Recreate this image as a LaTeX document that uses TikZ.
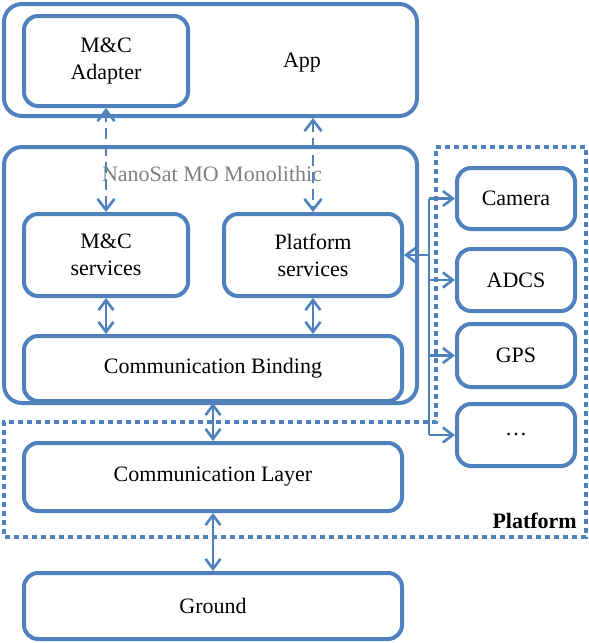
\documentclass[tikz,border=0pt]{standalone}
\usepackage{fontspec}
\setmainfont{Liberation Serif}
\usetikzlibrary{arrows.meta}
\definecolor{boxblue}{HTML}{4F81BD}
\definecolor{titlegray}{HTML}{808080}

\begin{document}
\begin{tikzpicture}[x=1pt,y=-1pt,
  box/.style={draw=boxblue, line width=4pt, rounded corners=14pt, fill=white,
    align=center, inner sep=0pt, font=\fontsize{22}{27}\selectfont},
  label/.style={inner sep=0pt, font=\fontsize{22}{27}\selectfont},
  link/.style={draw=boxblue, line width=2.6pt, {Straight Barb[length=10pt,width=15pt]}-{Straight Barb[length=10pt,width=15pt]}},
  feed/.style={draw=boxblue, line width=2.6pt, -{Straight Barb[length=10pt,width=15pt]}},
  dashlink/.style={draw=boxblue, line width=2.6pt, dash pattern=on 11pt off 6pt,
    {Straight Barb[length=11pt,width=17pt]}-{Straight Barb[length=11pt,width=17pt]}},
  border/.style={draw=boxblue, line width=4pt, dash pattern=on 5pt off 4pt}
]
\useasboundingbox (0,0) rectangle (589,643);

% platform region (dotted outline)
\draw[border] (436,147) -- (586,147) -- (586,537) -- (4,537) -- (4,422) -- (436,422) -- cycle;
\node[label, anchor=east, font=\fontsize{22}{27}\selectfont\bfseries] (platform) at (577,521) {Platform};

% application
\node[box, rounded corners=18pt, minimum width=413pt, minimum height=112pt] (app) at (210.5,60) {};
\node[label] (appname) at (302,63) {App};
\node[box, minimum width=164pt, minimum height=90pt] (mca) at (106,61) {M\&C\\Adapter};

% NanoSat MO Monolithic
\node[box, rounded corners=18pt, minimum width=413pt, minimum height=256pt] (nmf) at (210.5,275) {};
\node[label, text=titlegray] (nmftitle) at (212,174) {NanoSat MO Monolithic};
\node[box, minimum width=164pt, minimum height=82pt] (mcs) at (106,255) {M\&C\\services};
\node[box, minimum width=178pt, minimum height=82pt] (ps) at (313,255) {Platform\\services};
\node[box, minimum width=378pt, minimum height=65pt] (cb) at (213,368.5) {Communication Binding};

% lower layers
\node[box, minimum width=378pt, minimum height=68pt] (cl) at (213,477) {Communication Layer};
\node[box, minimum width=378pt, minimum height=66pt] (gnd) at (213,606) {Ground};

% peripherals
\node[box, minimum width=118pt, minimum height=61pt] (cam) at (516,198.5) {Camera};
\node[box, minimum width=118pt, minimum height=62pt] (adcs) at (516,280) {ADCS};
\node[box, minimum width=118pt, minimum height=63pt] (gps) at (516,355.5) {GPS};
\node[box, minimum width=118pt, minimum height=62pt] (more) at (516,435) {\dots};

% connectors
\draw[dashlink] (mca.south) -- (mcs.north);
\draw[dashlink] (ps.north |- app.south) -- (ps.north);
\draw[link] (mcs.south) -- (mcs.south |- cb.north);
\draw[link] (ps.south) -- (ps.south |- cb.north);
\draw[link] (cb.south) -- (cl.north);
\draw[link] (cl.south) -- (gnd.north);

% peripheral bus
\coordinate (bus) at (429,0);
\draw[draw=boxblue, line width=2.6pt] (bus |- cam) -- (bus |- more);
\draw[feed] (bus |- ps) -- (ps.east);
\draw[feed] (bus |- cam) -- (cam.west);
\draw[feed] (bus |- adcs) -- (adcs.west);
\draw[feed] (bus |- gps) -- (gps.west);
\draw[feed] (bus |- more) -- (more.west);
\end{tikzpicture}
\end{document}
